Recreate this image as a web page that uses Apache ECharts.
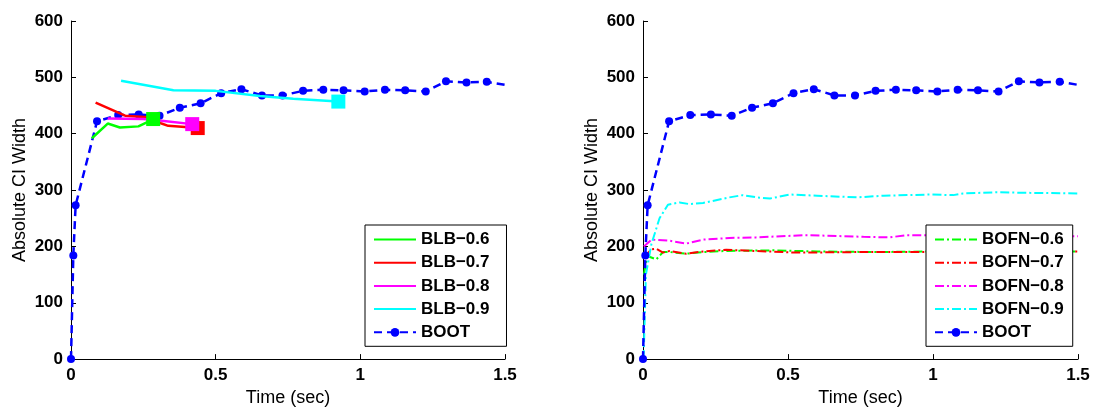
<!DOCTYPE html>
<html>
<head>
<meta charset="utf-8">
<script src="https://cdn.jsdelivr.net/npm/echarts@6/dist/echarts.min.js"></script>
<style>
html,body{margin:0;padding:0;background:#fff;}
#chart{width:1094px;height:412px;}
</style>
</head>
<body>
<div id="chart"></div>
<script>
// ---- data ----
var xTicks = [0, 0.5, 1, 1.5];
var yTicks = [0, 100, 200, 300, 400, 500, 600];

var bootX = [0, 0.008, 0.016, 0.090, 0.163, 0.234, 0.306, 0.376, 0.448, 0.519, 0.589, 0.660, 0.731, 0.802, 0.872, 0.942, 1.015, 1.085, 1.155, 1.226, 1.296, 1.367, 1.437, 1.508];
var bootY = [0, 184, 273, 422, 433, 434, 432, 446, 454, 472, 479, 468, 468, 476, 478, 477, 475, 478, 477, 475, 493, 491, 492, 486];

var blb06X = [0.072, 0.127, 0.169, 0.233, 0.262, 0.284];
var blb06Y = [392, 418, 411, 413, 420, 426];
var blb07X = [0.085, 0.187, 0.267, 0.313, 0.336, 0.394, 0.438];
var blb07Y = [455, 432, 429, 418, 414, 412, 410];
var blb08X = [0.127, 0.250, 0.313, 0.419];
var blb08Y = [427, 426, 423, 417];
var blb09X = [0.173, 0.354, 0.500, 0.653, 0.768, 0.924];
var blb09Y = [494, 477, 476, 467, 462, 457];

var bofn06X = [0.003, 0.015, 0.046, 0.069, 0.092, 0.149, 0.207, 0.290, 0.450, 0.600, 0.800, 1.000, 1.200, 1.500];
var bofn06Y = [150, 183, 177, 190, 190, 187, 190, 192, 193, 191, 190, 191, 191, 191];
var bofn07X = [0.003, 0.029, 0.046, 0.069, 0.092, 0.149, 0.207, 0.287, 0.380, 0.530, 0.760, 1.000, 1.250, 1.500];
var bofn07Y = [180, 195, 196, 189, 192, 187, 191, 194, 192, 189, 190, 190, 191, 191];
var bofn08X = [0.003, 0.029, 0.092, 0.149, 0.207, 0.298, 0.390, 0.565, 0.760, 0.850, 0.910, 1.100, 1.300, 1.500];
var bofn08Y = [200, 212, 210, 205, 212, 215, 216, 220, 217, 216, 220, 219, 219, 218];
var bofn09X = [0.002, 0.010, 0.029, 0.057, 0.086, 0.126, 0.161, 0.207, 0.252, 0.298, 0.344, 0.393, 0.438, 0.507, 0.600, 0.737, 0.830, 0.990, 1.070, 1.104, 1.220, 1.334, 1.500];
var bofn09Y = [0, 150, 204, 250, 274, 278, 275, 277, 282, 287, 291, 287, 285, 292, 290, 287, 290, 292, 291, 294, 296, 295, 294];

var blbNames = ['BLB\u22120.6', 'BLB\u22120.7', 'BLB\u22120.8', 'BLB\u22120.9', 'BOOT'];
var bofnNames = ['BOFN\u22120.6', 'BOFN\u22120.7', 'BOFN\u22120.8', 'BOFN\u22120.9', 'BOOT'];
var xName = 'Time (sec)';
var yName = 'Absolute CI Width';

// ---- helpers ----
function zip(xs, ys) { return xs.map(function (x, i) { return [x, ys[i]]; }); }
function zipEndSquare(xs, ys) {
  return xs.map(function (x, i) {
    if (i === xs.length - 1) return { value: [x, ys[i]], symbol: 'rect', symbolSize: 14 };
    return [x, ys[i]];
  });
}
var FONT = 'Liberation Sans, Arial, sans-serif';

function xAxis(idx) {
  return {
    type: 'value', gridIndex: idx, min: 0, max: 1.5, interval: 0.5,
    name: xName, nameLocation: 'middle', nameGap: 26,
    nameTextStyle: { fontFamily: FONT, fontSize: 18, color: '#000' },
    axisLine: { show: true, onZero: false, lineStyle: { color: '#000', width: 1 } },
    axisTick: { show: true, inside: true, length: 5, lineStyle: { color: '#000' } },
    axisLabel: { fontFamily: FONT, fontSize: 17, fontWeight: 'bold', color: '#000', margin: 8,
      formatter: function (v) { return String(v); } },
    splitLine: { show: false }
  };
}
function yAxis(idx) {
  return {
    type: 'value', gridIndex: idx, min: 0, max: 600, interval: 100,
    name: yName, nameLocation: 'middle', nameGap: 42,
    nameTextStyle: { fontFamily: FONT, fontSize: 18, color: '#000' },
    axisLine: { show: true, onZero: false, lineStyle: { color: '#000', width: 1 } },
    axisTick: { show: true, inside: true, length: 5, lineStyle: { color: '#000' } },
    axisLabel: { fontFamily: FONT, fontSize: 17, fontWeight: 'bold', color: '#000', margin: 8 },
    splitLine: { show: false }
  };
}
function bootSeries(idx) {
  return {
    name: 'BOOT', type: 'line', xAxisIndex: idx, yAxisIndex: idx,
    data: zip(bootX, bootY), symbol: 'circle', symbolSize: 8,
    lineStyle: { color: '#0000ff', width: 2.5, type: [8, 5] },
    itemStyle: { color: '#0000ff' }, animation: false, z: 5
  };
}
function blbSeries(name, xs, ys, color) {
  return {
    name: name, type: 'line', xAxisIndex: 0, yAxisIndex: 0,
    data: zipEndSquare(xs, ys), symbol: 'none', showSymbol: true,
    lineStyle: { color: color, width: 2.5 }, itemStyle: { color: color }, animation: false, z: 6
  };
}
function bofnSeries(name, xs, ys, color) {
  return {
    name: name, type: 'line', xAxisIndex: 1, yAxisIndex: 1,
    data: zip(xs, ys), symbol: 'none',
    lineStyle: { color: color, width: 2, type: [9, 3, 2, 3] }, itemStyle: { color: color }, animation: false
  };
}
function legend(left, names, padRight) {
  return {
    orient: 'vertical', left: left, top: 225,
    data: names.map(function (n) {
      return n === 'BOOT' ? { name: n } : { name: n, itemStyle: { opacity: 0 } };
    }),
    padding: [6, padRight, 5.5, 8], itemWidth: 42, itemHeight: 11, itemGap: 6.2,
    borderColor: '#000', borderWidth: 1, backgroundColor: '#fff',
    textStyle: { fontFamily: FONT, fontSize: 17, fontWeight: 'bold', color: '#000' },
    selectedMode: false
  };
}

var chart = echarts.init(document.getElementById('chart'), null, { renderer: 'canvas' });
chart.setOption({
  backgroundColor: '#fff',
  animation: false,
  grid: [
    { left: 71, top: 21, width: 434, height: 342 },
    { left: 643, top: 21, width: 435, height: 342 }
  ],
  xAxis: [xAxis(0), xAxis(1)],
  yAxis: [yAxis(0), yAxis(1)],
  legend: [legend(365, blbNames, 17), legend(926, bofnNames, 9)],
  series: [
    blbSeries(blbNames[0], blb06X, blb06Y, '#00ff00'),
    blbSeries(blbNames[1], blb07X, blb07Y, '#ff0000'),
    blbSeries(blbNames[2], blb08X, blb08Y, '#ff00ff'),
    blbSeries(blbNames[3], blb09X, blb09Y, '#00ffff'),
    bootSeries(0),
    bofnSeries(bofnNames[0], bofn06X, bofn06Y, '#00ff00'),
    bofnSeries(bofnNames[1], bofn07X, bofn07Y, '#ff0000'),
    bofnSeries(bofnNames[2], bofn08X, bofn08Y, '#ff00ff'),
    bofnSeries(bofnNames[3], bofn09X, bofn09Y, '#00ffff'),
    bootSeries(1)
  ]
});
</script>
</body>
</html>
